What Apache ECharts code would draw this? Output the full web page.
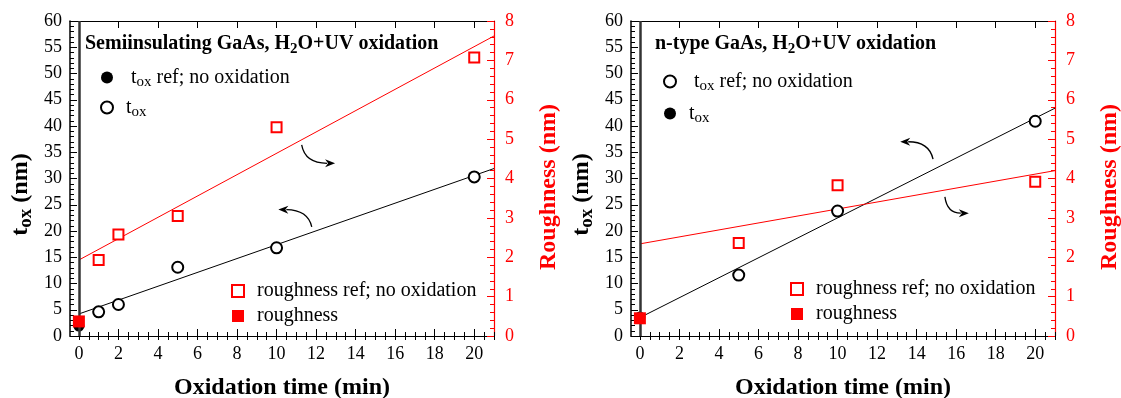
<!DOCTYPE html>
<html>
<head>
<meta charset="utf-8">
<script src="https://cdn.jsdelivr.net/npm/echarts@6/dist/echarts.min.js"></script>
<style>
html, body { margin: 0; background: #fff; }
#main { width: 1121px; height: 398px; }
</style>
</head>
<body>
<div id="main"></div>
<script>
// ---- data ----
// semi-insulating GaAs (left panel)
var siTime = [1, 2, 5, 10, 20];
var siTox = [4.6, 6.0, 13.1, 16.8, 30.3];
var siRough = [1.93, 2.58, 3.05, 5.3, 7.07];
var siToxRef = [1.9];
var siRoughRef = [0.37];
var siToxFit = [4.2, 31.9];
var siRoughFit = [1.93, 7.62];

// n-type GaAs (right panel)
var nTime = [5, 10, 20];
var nTox = [11.6, 23.8, 40.9];
var nRough = [2.36, 3.83, 3.92];
var nToxRef = [3.6];
var nRoughRef = [0.45];
var nToxFit = [3.5, 43.4];
var nRoughFit = [2.34, 4.2];

var refTime = [0];
var fitTime = [0, 21];
var xTicks = [0, 2, 4, 6, 8, 10, 12, 14, 16, 18, 20];

var serif = "'Liberation Serif', 'Times New Roman', serif";
var RED = '#ff0000';

function pairs(xs, ys) {
    return xs.map(function (x, i) { return [x, ys[i]]; });
}

var xMinor = [];
for (var v = 0; v <= 21; v += 0.5) xMinor.push(v);

var subRich = {
    s: { fontFamily: serif, fontSize: 15, color: '#000', padding: [10, 0, 0, 0], lineHeight: 16 }
};
var subRichBold = {
    s: { fontFamily: serif, fontSize: 15, fontWeight: 'bold', color: '#000', padding: [10, 0, 0, 0], lineHeight: 16 }
};
var subRichName = {
    s: { fontFamily: serif, fontSize: 19, fontWeight: 'bold', color: '#000', padding: [11, 0, 0, 0], lineHeight: 20 }
};

// 4 x axes per grid: bottom major, bottom minor, top major, top minor
function xAxes(g) {
    var base = {
        gridIndex: g, type: 'value', min: -0.45, max: 21,
        splitLine: { show: false }
    };
    return [
        Object.assign({}, base, {
            position: 'bottom',
            name: 'Oxidation time (min)', nameLocation: 'middle', nameGap: 40,
            nameTextStyle: { fontFamily: serif, fontSize: 24, fontWeight: 'bold', color: '#000' },
            axisLine: { onZero: false, lineStyle: { color: '#000', width: 1.2 } },
            axisTick: { inside: true, length: 7, customValues: xTicks, lineStyle: { color: '#000' } },
            axisLabel: { customValues: xTicks, fontFamily: serif, fontSize: 18, color: '#000', margin: 9 }
        }),
        Object.assign({}, base, {
            position: 'bottom',
            axisLine: { show: false },
            axisTick: { inside: true, length: 4, customValues: xMinor, lineStyle: { color: '#000' } },
            axisLabel: { show: false }
        }),
        Object.assign({}, base, {
            position: 'top',
            axisLine: { onZero: false, lineStyle: { color: '#000', width: 1.2 } },
            axisTick: { inside: true, length: 7, customValues: xTicks, lineStyle: { color: '#000' } },
            axisLabel: { show: false }
        }),
        Object.assign({}, base, {
            position: 'top',
            axisLine: { show: false },
            axisTick: { inside: true, length: 4, customValues: xMinor, lineStyle: { color: '#000' } },
            axisLabel: { show: false }
        })
    ];
}

function yAxes(g) {
    return [
        {
            gridIndex: g, type: 'value', position: 'left', min: 0, max: 60, interval: 5,
            name: 't{s|ox} (nm)', nameLocation: 'middle', nameGap: 37,
            nameTextStyle: { fontFamily: serif, fontSize: 24, fontWeight: 'bold', color: '#000',
                padding: [0, 32, 0, 0], rich: subRichName },
            axisLine: { onZero: false, lineStyle: { color: '#000', width: 1.5 } },
            axisTick: { inside: true, length: 7, lineStyle: { color: '#000' } },
            minorTick: { show: true, splitNumber: 5, length: 4, lineStyle: { color: '#000' } },
            axisLabel: { fontFamily: serif, fontSize: 18, color: '#000', margin: 8 },
            splitLine: { show: false }
        },
        {
            gridIndex: g, type: 'value', position: 'right', min: 0, max: 8, interval: 1,
            name: 'Roughness (nm)', nameLocation: 'middle', nameGap: 43,
            nameTextStyle: { fontFamily: serif, fontSize: 24, fontWeight: 'bold', color: RED,
                padding: [0, 17, 0, 0] },
            axisLine: { onZero: false, lineStyle: { color: RED, width: 1.2 } },
            axisTick: { inside: true, length: 7, lineStyle: { color: RED } },
            minorTick: { show: true, splitNumber: 5, length: 4, lineStyle: { color: RED } },
            axisLabel: { fontFamily: serif, fontSize: 18, color: RED, margin: 11 },
            splitLine: { show: false }
        }
    ];
}

var openCircle = { color: '#fff', borderColor: '#000', borderWidth: 2, opacity: 1 };
var fillCircle = { color: '#000', borderColor: '#000', borderWidth: 0, opacity: 1 };
var openSquare = { color: '#fff', borderColor: RED, borderWidth: 2, opacity: 1 };
var fillSquare = { color: RED, borderColor: RED, borderWidth: 0, opacity: 1 };

var labels = {
    siToxRef: ' t{s|ox} ref; no oxidation',
    siTox: 't{s|ox}',
    siRoughOpen: 'roughness ref; no oxidation',
    siRoughFill: 'roughness',
    nToxOpen: ' t{s|ox} ref; no oxidation',
    nToxFill: 't{s|ox}',
    nRoughOpen: 'roughness ref; no oxidation',
    nRoughFill: 'roughness'
};

function panelSeries(p, xi, yi, d) {
    return [
        { name: p + 'FitTox', type: 'line', xAxisIndex: xi, yAxisIndex: yi, data: pairs(fitTime, d.toxFit),
          symbol: 'none', lineStyle: { color: '#000', width: 1 }, silent: true, z: 2,
          markLine: { silent: true, symbol: 'none', label: { show: false },
              lineStyle: { color: '#333', width: 2.5, type: 'solid', opacity: 1 }, data: [{ xAxis: 0 }] } },
        { name: p + 'FitRough', type: 'line', xAxisIndex: xi, yAxisIndex: yi + 1, data: pairs(fitTime, d.roughFit),
          symbol: 'none', lineStyle: { color: RED, width: 1 }, silent: true, z: 2 },
        { name: d.open, type: 'scatter', xAxisIndex: xi, yAxisIndex: yi, data: pairs(d.time, d.tox),
          symbol: 'circle', symbolSize: 11, itemStyle: openCircle, z: 3 },
        { name: d.fill, type: 'scatter', xAxisIndex: xi, yAxisIndex: yi, data: pairs(refTime, d.toxRef),
          symbol: 'circle', symbolSize: 11, itemStyle: fillCircle, z: 3 },
        { name: p + 'RoughOpen', type: 'scatter', xAxisIndex: xi, yAxisIndex: yi + 1, data: pairs(d.time, d.rough),
          symbol: 'rect', symbolSize: 10, itemStyle: openSquare, z: 4 },
        { name: p + 'RoughFill', type: 'scatter', xAxisIndex: xi, yAxisIndex: yi + 1, data: pairs(refTime, d.roughRef),
          symbol: 'rect', symbolSize: 12, itemStyle: fillSquare, z: 5 }
    ];
}

function legendBox(left, top, gap, names) {
    return {
        left: left, top: top, orient: 'vertical', padding: 0, itemGap: gap,
        itemWidth: 12, itemHeight: 12, selectedMode: false, data: names,
        formatter: function (n) { return labels[n]; },
        textStyle: { fontFamily: serif, fontSize: 20, color: '#000', padding: [0, 0, 0, 8], rich: subRich }
    };
}

var titleStyle = { fontFamily: serif, fontSize: 20, fontWeight: 'bold', color: '#000', rich: subRichBold };

var myChart = echarts.init(document.getElementById('main'));
option = {
    animation: false,
    backgroundColor: '#fff',
    title: [
        { text: 'Semiinsulating GaAs, H{s|2}O+UV oxidation', left: 85, top: 34, padding: 0, textStyle: titleStyle },
        { text: 'n-type GaAs, H{s|2}O+UV oxidation', left: 655, top: 34, padding: 0, textStyle: titleStyle }
    ],
    grid: [
        { left: 70, top: 21, width: 424, height: 315, containLabel: false, outerBoundsMode: 'none' },
        { left: 631, top: 21, width: 424, height: 315, containLabel: false, outerBoundsMode: 'none' }
    ],
    legend: [
        legendBox(100, 65, 5, ['siToxRef', 'siTox']),
        legendBox(231, 281, 5, ['siRoughOpen', 'siRoughFill']),
        legendBox(663, 69, 7, ['nToxOpen', 'nToxFill']),
        legendBox(790, 279, 5, ['nRoughOpen', 'nRoughFill'])
    ],
    xAxis: xAxes(0).concat(xAxes(1)),
    yAxis: yAxes(0).concat(yAxes(1)),
    series: panelSeries('si', 0, 0, {
        time: siTime, tox: siTox, rough: siRough, toxRef: siToxRef, roughRef: siRoughRef,
        toxFit: siToxFit, roughFit: siRoughFit, open: 'siTox', fill: 'siToxRef'
    }).concat(panelSeries('n', 4, 2, {
        time: nTime, tox: nTox, rough: nRough, toxRef: nToxRef, roughRef: nRoughRef,
        toxFit: nToxFit, roughFit: nRoughFit, open: 'nToxOpen', fill: 'nToxFill'
    }))
};
myChart.setOption(option);

// curved arrows pointing to the axis each fit belongs to (start, control, tip in data units)
var arrows = [
    { xi: 0, yi: 0, pts: [[11.27, 36.4], [11.44, 32.9], [12.96, 32.9]] },
    { xi: 0, yi: 0, pts: [[11.78, 20.8], [11.59, 24.0], [10.09, 24.1]] },
    { xi: 4, yi: 2, pts: [[14.83, 33.7], [14.63, 37.0], [13.17, 37.0]] },
    { xi: 4, yi: 2, pts: [[15.43, 26.5], [15.54, 23.4], [16.64, 23.4]] }
];
var graphics = [];
arrows.forEach(function (a) {
    var p = a.pts.map(function (q) {
        return myChart.convertToPixel({ xAxisIndex: a.xi, yAxisIndex: a.yi }, q);
    });
    var dx = p[2][0] - p[1][0], dy = p[2][1] - p[1][1];
    var L = Math.sqrt(dx * dx + dy * dy), ux = dx / L, uy = dy / L;
    var len = 10, hw = 4;
    var b = [p[2][0] - ux * len, p[2][1] - uy * len];
    graphics.push({
        type: 'bezierCurve', silent: true,
        shape: { x1: p[0][0], y1: p[0][1], cpx1: p[1][0], cpy1: p[1][1], x2: b[0] + ux * 2, y2: b[1] + uy * 2 },
        style: { stroke: '#000', lineWidth: 1.3, fill: null }
    });
    graphics.push({
        type: 'polygon', silent: true,
        shape: { points: [p[2], [b[0] - uy * hw, b[1] + ux * hw], [b[0] + ux * 3, b[1] + uy * 3], [b[0] + uy * hw, b[1] - ux * hw]] },
        style: { fill: '#000' }
    });
});
myChart.setOption({ graphic: graphics });
window.onresize = myChart.resize;
</script>
</body>
</html>
